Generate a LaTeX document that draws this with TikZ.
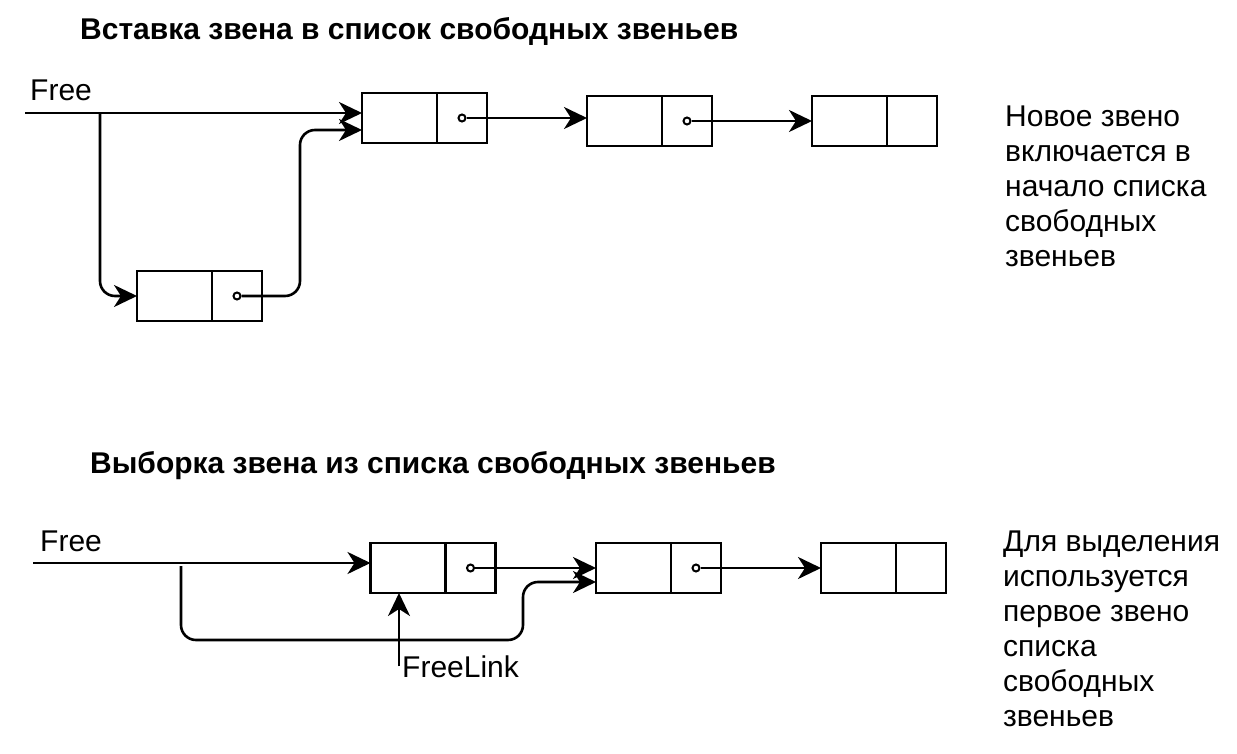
\documentclass[tikz,border=0pt]{standalone}
\usepackage{fontspec}
\setmainfont{Liberation Sans}
\usetikzlibrary{arrows.meta,positioning}
\tikzstyle{cell}=[draw, line width=2.6pt, inner sep=0, outer sep=0, minimum height=50pt]
\tikzstyle{lcell}=[cell, minimum width=75pt]
\tikzstyle{rcell}=[cell, minimum width=50pt]
\tikzstyle{ptr}=[circle, draw, fill=white, line width=2pt, inner sep=0, minimum size=7pt]
\tikzstyle{link}=[line width=2.6pt, -{Stealth[length=23pt, width=22pt, inset=7pt]}]
\tikzstyle{heading}=[anchor=west, inner sep=0, font=\fontsize{30}{36}\selectfont\bfseries]
\tikzstyle{tag}=[anchor=base west, inner sep=0, font=\fontsize{30}{36}\selectfont]
\tikzstyle{note}=[anchor=north west, inner sep=0, align=left, font=\fontsize{30}{35}\selectfont]

\begin{document}
\begin{tikzpicture}[x=1pt, y=-1pt]
    \useasboundingbox (0,0) rectangle (1237,754);
    % insertion
    \node[heading] (T1) at (80,31) {Вставка звена в список свободных звеньев};
    \node[tag] (F1txt) at (30,101) {Free};
    \node[lcell] (A1) at (399.5,118) {};
    \node[rcell, right=0pt of A1] (A1p) {};
    \node[ptr] (A1dot) at (A1p) {};
    \node[lcell] (A2) at (624.5,121) {};
    \node[rcell, right=0pt of A2] (A2p) {};
    \node[ptr] (A2dot) at (A2p) {};
    \node[lcell] (A3) at (849.5,121) {};
    \node[rcell, right=0pt of A3] (A3p) {};
    \node[lcell] (B1) at (174.5,296) {};
    \node[rcell, right=0pt of B1] (B1p) {};
    \node[ptr] (B1dot) at (B1p) {};
    \node[note] (N1) at (1005,106) {Новое звено\\включается в\\начало списка\\свободных\\звеньев};
    \coordinate (F1) at (25,113);
    \coordinate (F1b) at (100,113);
    \coordinate (B1up) at (300,296);
    \draw[link] (F1) -- (F1 -| A1.west);
    \draw[link, rounded corners=15pt] (F1b) |- (B1.west);
    \draw[link, rounded corners=15pt] (B1dot) -- (B1up) |- ([yshift=-12pt]A1.west);
    \draw[link] (A1dot) -- (A1dot -| A2.west);
    \draw[link] (A2dot) -- (A2dot -| A3.west);
    % removal
    \node[heading] (T2) at (90,466) {Выборка звена из списка свободных звеньев};
    \node[tag] (F2txt) at (40,551) {Free};
    \node[lcell] (C1) at (408,568) {};
    \node[rcell, right=0pt of C1] (C1p) {};
    \node[ptr] (C1dot) at (C1p) {};
    \node[lcell] (C2) at (633.5,568) {};
    \node[rcell, right=0pt of C2] (C2p) {};
    \node[ptr] (C2dot) at (C2p) {};
    \node[lcell] (C3) at (858.5,568) {};
    \node[rcell, right=0pt of C3] (C3p) {};
    \node[tag, inner xsep=3pt] (FL) at (399,677) {FreeLink};
    \node[note] (N2) at (1003,531) {Для выделения\\используется\\первое звено\\списка\\свободных\\звеньев};
    \coordinate (F2) at (33,563);
    \coordinate (F2b) at (181,566);
    \coordinate (C2low) at (523,640);
    \draw[link] (F2) -- (F2 -| C1.west);
    \draw[link, rounded corners=15pt] (F2b) |- (C2low) |- ([yshift=-14pt]C2.west);
    \draw[link] (C1dot) -- (C1dot -| C2.west);
    \draw[link] (C2dot) -- (C2dot -| C3.west);
    \draw[link] (FL.west) -- (FL.west |- C1.south);
\end{tikzpicture}
\end{document}
